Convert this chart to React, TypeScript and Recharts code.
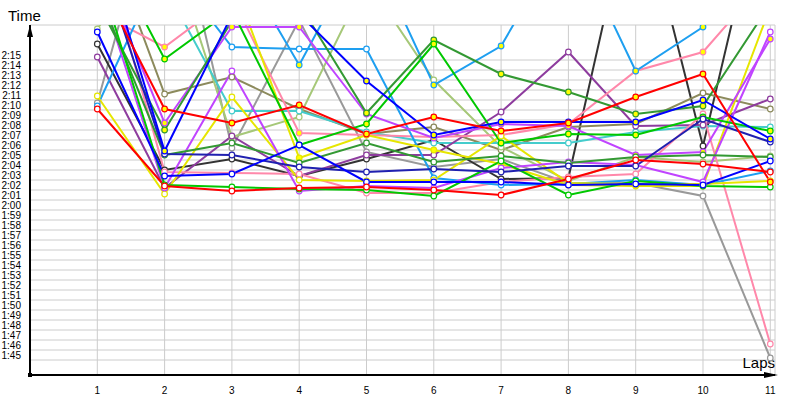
import React from 'react';
import { LineChart, Line, XAxis, YAxis, CartesianGrid } from 'recharts';

// lap numbers and time ticks (seconds)
const laps = [1, 2, 3, 4, 5, 6, 7, 8, 9, 10, 11];
const timeTicks = [
  105, 106, 107, 108, 109, 110, 111, 112, 113, 114, 115, 116, 117, 118, 119, 120,
  121, 122, 123, 124, 125, 126, 127, 128, 129, 130, 131, 132, 133, 134, 135,
];

// lap times per driver, seconds (values above ~138.5 run off the top of the chart)
const redA = [143.3, 130.1, 128.7, 130.5, 127.6, 129.3, 127.9, 128.7, 131.3, 133.6, 122.8];
const redB = [130.1, 122.4, 121.9, 122.2, 122.3, 122.0, 121.5, 123.1, 125.0, 124.6, 123.8];
const blueA = [148, 125.9, 139.5, 139.6, 132.9, 127.5, 128.8, 128.8, 128.8, 131.0, 127.1];
const blueB = [137.8, 123.4, 123.6, 126.5, 122.8, 122.8, 122.8, 122.5, 122.6, 122.5, 124.9];
const indigo = [146, 125.6, 125.5, 124.3, 123.8, 124.1, 123.8, 124.4, 124.4, 129.1, 126.8];
const greenA = [147.9, 135.1, 140, 126.5, 128.6, 136.6, 126.7, 127.6, 127.5, 129.3, 127.9];
const greenB = [144, 122.5, 122.3, 122.1, 122.0, 121.4, 124.9, 121.5, 122.9, 122.4, 122.3];
const forestA = [140.8, 128.0, 138.9, 140.6, 129.7, 137.0, 133.6, 131.8, 129.6, 130.4, 140.6];
const forestB = [142, 125.5, 126.7, 124.7, 126.7, 124.8, 125.4, 124.7, 125.3, 125.5, 125.3];
const skyA = [145, 145, 146, 134.5, 147, 132.5, 136.4, 148, 133.9, 138.3, 145];
const skyB = [130.4, 145, 136.3, 136.1, 136.1, 123.2, 122.5, 122.6, 123.0, 122.5, 123.9];
const cyan = [145, 142.4, 129.9, 129.9, 127.8, 126.7, 126.7, 126.7, 127.8, 128.4, 128.3];
const pinkA = [139.8, 136.3, 141.3, 127.7, 127.5, 127.3, 127.5, 128.6, 133.9, 135.8, 143.5];
const pinkB = [148, 123.8, 123.7, 123.6, 121.7, 121.7, 122.8, 123.3, 123.6, 129.6, 106.6];
const violetA = [145, 128.7, 138.3, 138.3, 129.6, 127.2, 128.6, 128.4, 125.5, 125.8, 137.1];
const violetB = [143, 122.2, 133.9, 121.9, 122.4, 122.2, 124.2, 124.8, 124.5, 122.8, 137.8];
const purple = [135.3, 122.2, 127.4, 123.4, 125.5, 125.5, 129.8, 135.8, 128.4, 128.5, 131.1];
const yellowA = [145, 145, 143.2, 125.2, 127.5, 126.0, 124.6, 122.5, 122.4, 122.4, 140.3];
const yellowB = [131.4, 121.6, 131.3, 123.0, 122.9, 123.0, 127.4, 122.7, 122.6, 122.6, 122.9];
const olive = [149.7, 131.6, 133.3, 130.1, 127.6, 128.3, 126.0, 128.3, 128.6, 131.7, 130.1];
const lime = [138.1, 148, 127.3, 129.3, 143, 133.0, 126.3, 122.9, 125.3, 124.8, 125.4];
const grey = [130.7, 155, 126.2, 139, 125.8, 124.3, 125.1, 122.7, 122.7, 121.4, 105.2];
const charcoal = [136.6, 124.0, 125.1, 123.4, 125.1, 127.0, 123.1, 123.2, 153, 126.4, 155];

const YELLOW = '#ffff00';
const WHITE = '#ffffff';

const series = [
  { key: 'grey', values: grey, color: '#999999', fill: WHITE },
  { key: 'charcoal', values: charcoal, color: '#333333', fill: WHITE },
  { key: 'olive', values: olive, color: '#8c8a5c', fill: WHITE },
  { key: 'lime', values: lime, color: '#a6c878', fill: WHITE },
  { key: 'cyan', values: cyan, color: '#44cccc', fill: WHITE },
  { key: 'purple', values: purple, color: '#8e3c9e', fill: WHITE },
  { key: 'pinkB', values: pinkB, color: '#ff88aa', fill: WHITE },
  { key: 'pinkA', values: pinkA, color: '#ff88aa', fill: YELLOW },
  { key: 'skyB', values: skyB, color: '#1e9ff0', fill: WHITE },
  { key: 'skyA', values: skyA, color: '#1e9ff0', fill: YELLOW },
  { key: 'yellowB', values: yellowB, color: '#e6e600', fill: WHITE },
  { key: 'yellowA', values: yellowA, color: '#e6e600', fill: YELLOW },
  { key: 'violetB', values: violetB, color: '#c044ff', fill: WHITE },
  { key: 'violetA', values: violetA, color: '#c044ff', fill: YELLOW },
  { key: 'forestB', values: forestB, color: '#339933', fill: WHITE },
  { key: 'forestA', values: forestA, color: '#339933', fill: YELLOW },
  { key: 'greenB', values: greenB, color: '#00c800', fill: WHITE },
  { key: 'greenA', values: greenA, color: '#00c800', fill: YELLOW },
  { key: 'indigo', values: indigo, color: '#2020b0', fill: WHITE },
  { key: 'blueB', values: blueB, color: '#0000ff', fill: WHITE },
  { key: 'blueA', values: blueA, color: '#0000ff', fill: YELLOW },
  { key: 'redB', values: redB, color: '#ff0000', fill: WHITE },
  { key: 'redA', values: redA, color: '#ff0000', fill: YELLOW },
];

const rows = laps.map((lap, i) => {
  const row: Record<string, number> = { lap };
  series.forEach((s) => {
    row[s.key] = s.values[i];
  });
  return row;
});

const FONT = 'Tahoma, "Liberation Sans", sans-serif';

const formatTime = (v: number) =>
  `${Math.floor(v / 60)}:${String(v % 60).padStart(2, '0')}`;

const TimeTick = ({ x, y, payload }: any) => (
  <text
    x={x}
    y={y - 5}
    textAnchor='end'
    dominantBaseline='central'
    fontSize={10}
    fontFamily={FONT}
    fill='#000'
  >
    {formatTime(payload.value)}
  </text>
);

const LapTick = ({ x, y, payload }: any) => (
  <text
    x={x}
    y={y + 13}
    textAnchor='middle'
    dominantBaseline='central'
    fontSize={10}
    fontFamily={FONT}
    fill='#000'
  >
    {payload.value}
  </text>
);

const TimeLabel = ({ viewBox }: any) => (
  <text x={viewBox.x + 8} y={viewBox.y - 4} fontSize={15} fontFamily={FONT} fill='#000'>
    Time
  </text>
);

const LapsLabel = ({ viewBox }: any) => (
  <text
    x={viewBox.x + viewBox.width}
    y={viewBox.y - 7}
    textAnchor='end'
    fontSize={15}
    fontFamily={FONT}
    fill='#000'
  >
    Laps
  </text>
);

export default function App() {
  return (
    <div style={{ position: 'absolute', left: 0, top: 0, width: 800, height: 400, background: '#fff' }}>
      <svg width={0} height={0} style={{ position: 'absolute' }}>
        <defs>
          <marker id='arrowX' markerUnits='userSpaceOnUse' markerWidth={14} markerHeight={8} refX={11} refY={4} orient='auto'>
            <path d='M0,1 L14,4 L0,7 Z' fill='#000' />
          </marker>
          <marker id='arrowY' markerUnits='userSpaceOnUse' markerWidth={12} markerHeight={8} refX={12} refY={4} orient='auto-start-reverse'>
            <path d='M0,1 L12,4 L0,7 Z' fill='#000' />
          </marker>
          <marker id='origin' markerUnits='userSpaceOnUse' markerWidth={4} markerHeight={4} refX={2} refY={2} orient='0'>
            <rect x={0} y={0} width={4} height={4} fill='#000' />
          </marker>
        </defs>
      </svg>
      <LineChart
        width={800}
        height={400}
        data={rows}
        margin={{ top: 25, right: 25, bottom: 0, left: 0 }}
      >
        <CartesianGrid stroke='#cccccc' strokeWidth={1} />
        <XAxis
          dataKey='lap'
          type='number'
          domain={[0, 11.07]}
          ticks={laps}
          interval={0}
          allowDataOverflow
          height={25}
          tickSize={0}
          tickLine={false}
          tick={<LapTick />}
          axisLine={{ stroke: '#000', strokeWidth: 2, markerEnd: 'url(#arrowX)', markerStart: 'url(#origin)' }}
          label={<LapsLabel />}
        />
        <YAxis
          type='number'
          domain={[103.5, 138.5]}
          ticks={timeTicks}
          interval={0}
          allowDataOverflow
          width={30}
          tickSize={0}
          tickMargin={9}
          tickLine={false}
          tick={<TimeTick />}
          axisLine={{ stroke: '#000', strokeWidth: 2, markerStart: 'url(#arrowY)' }}
          label={<TimeLabel />}
        />
        {series.map((s) => (
          <Line
            key={s.key}
            type='linear'
            dataKey={s.key}
            stroke={s.color}
            strokeWidth={2}
            dot={{ r: 2.8, fill: s.fill, stroke: s.color, strokeWidth: 1.2 }}
            activeDot={false}
            isAnimationActive={false}
          />
        ))}
      </LineChart>
    </div>
  );
}
